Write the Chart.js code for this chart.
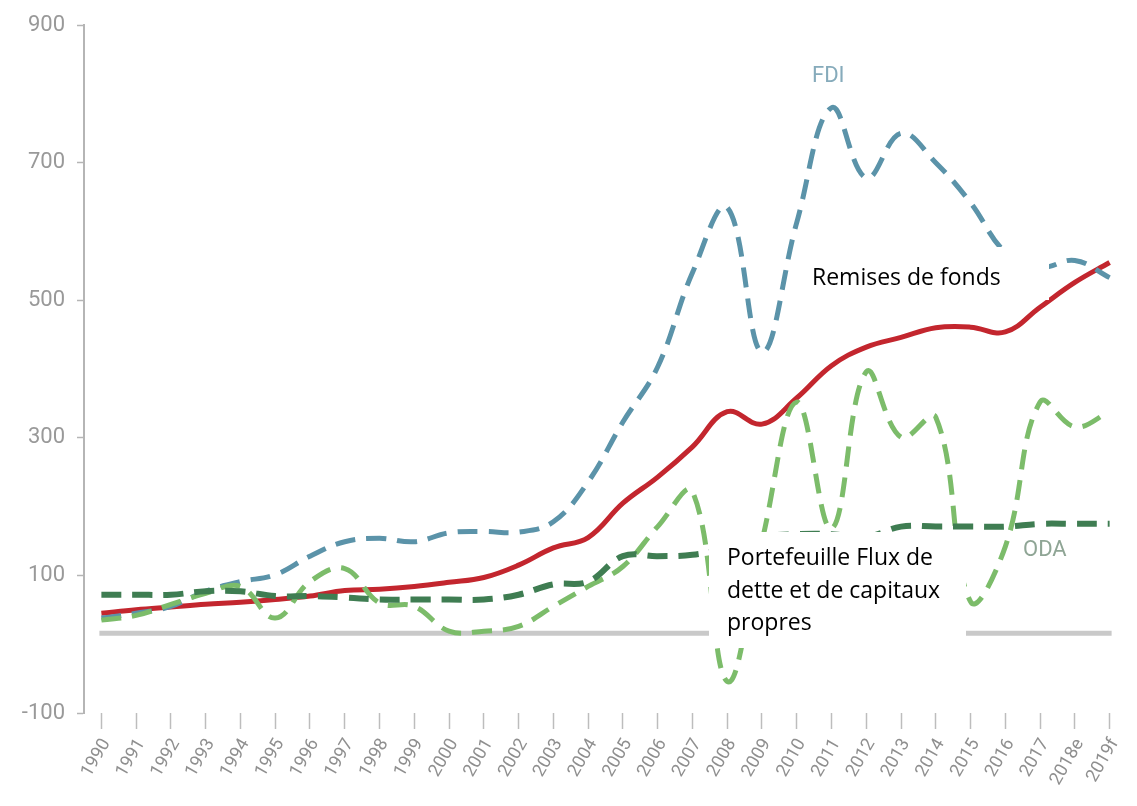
<!DOCTYPE html>
<html><head><meta charset="utf-8">
<script src="https://cdn.jsdelivr.net/npm/chart.js@4.4.1/dist/chart.umd.min.js"></script>
<style>html,body{margin:0;padding:0;background:#fff}#wrap{width:1137px;height:806px}</style>
</head><body><div id="wrap"><canvas id="c" width="1137" height="806"></canvas></div>
<script>
const years = ['1990','1991','1992','1993','1994','1995','1996','1997','1998','1999','2000','2001','2002','2003','2004','2005','2006','2007','2008','2009','2010','2011','2012','2013','2014','2015','2016','2017','2018e','2019f'];
const remittances = [45,50,54,58,61,65,70,78,80,84,90,97,115,140,155,205,243,287,338,320,358,405,432,446,460,461,454,490,526,555];
const fdi = [38,45,55,77,91,101,128,149,154,149,162,164,163,178,236,323,403,540,635,425,613,780,678,743,700,642,570,548,558,533];
const portfolio = [35,42,58,74,84,38,91,110,60,55,19,19,26,55,84,113,171,222,-54,150,352,168,396,301,330,62,142,352,316,338];
const oda = [72,72,72,77,77,70,70,68,65,65,65,65,72,87,91,128,128,130,140,156,160,160,156,171,171,171,171,175,175,175];
const yTicks = [-100,100,300,500,700,900];
const BASELINE = 16;
const AXISFONT = 'Roboto, "Liberation Sans", sans-serif';

const baselinePlugin = {
  id:'baseline',
  beforeDatasetsDraw(chart){
    const {ctx, scales:{x,y}} = chart;
    const py = y.getPixelForValue(BASELINE);
    ctx.save();
    ctx.strokeStyle='#c9c9c9'; ctx.lineWidth=5;
    ctx.beginPath(); ctx.moveTo(x.getPixelForValue(0)-2,py); ctx.lineTo(x.getPixelForValue(years.length-1)+2,py); ctx.stroke();
    ctx.restore();
  }
};
const labelsPlugin = {
  id:'labels',
  afterDatasetsDraw(chart){
    const {ctx} = chart;
    ctx.save();
    ctx.font = '22px ' + AXISFONT;
    ctx.textAlign='left'; ctx.textBaseline='middle';
    ctx.fillStyle='#86abbb';
    ctx.fillText('FDI', 812, 76);
    ctx.fillStyle='#8fa595';
    ctx.fillText('ODA', 1023, 550);
    ctx.fillStyle='#e58080';
    ctx.font = '20px ' + AXISFONT;
    ctx.fillText('Remittances', 893, 294);
    // white boxes
    ctx.fillStyle='#ffffff';
    ctx.fillRect(800, 247, 249, 53);
    ctx.fillRect(709, 532, 257, 116);
    ctx.fillStyle='#000';
    ctx.font = '23px "Open Sans", "Noto Sans", sans-serif';
    ctx.textBaseline='alphabetic';
    ctx.fillText('Remises de fonds', 812, 285);
    ctx.fillText('Portefeuille Flux de', 727, 565);
    ctx.fillText('dette et de capitaux', 727, 598);
    ctx.fillText('propres', 727, 630);
    ctx.restore();
  }
};
const dash = [20,11];
new Chart(document.getElementById('c'), {
  type:'line',
  data:{
    labels: years,
    datasets:[
      {label:'ODA', data:oda, borderColor:'#3f7d52', borderWidth:6, borderDash:dash, tension:0.4, pointRadius:0, fill:false},
      {label:'Portfolio', data:portfolio, borderColor:'#7cbc6a', borderWidth:5, borderDash:dash, tension:0.4, pointRadius:0, fill:false},
      {label:'FDI', data:fdi, borderColor:'#5b93a9', borderWidth:5, borderDash:dash, tension:0.4, pointRadius:0, fill:false},
      {label:'Remittances', data:remittances, borderColor:'#c3262e', borderWidth:5, tension:0.4, pointRadius:0, fill:false}
    ]
  },
  options:{
    responsive:false, animation:false,
    layout:{padding:{top:17,right:10,left:0,bottom:0}},
    plugins:{legend:{display:false}, tooltip:{enabled:false}},
    scales:{
      x:{
        offset:true,
        border:{display:false},
        grid:{offset:false, drawOnChartArea:false, drawTicks:true, tickLength:16, color:'#bdbdbd', tickWidth:1.5},
        ticks:{color:'#8f8f8f', font:{size:18, family:AXISFONT}, minRotation:60, maxRotation:60, autoSkip:false, padding:6, labelOffset:5},
        afterFit(s){ s.height = 93; }
      },
      y:{
        min:-100, max:900,
        afterBuildTicks(s){ s.ticks = yTicks.map(v=>({value:v})); },
        border:{display:true, color:'#b5b5b5', width:2},
        grid:{drawOnChartArea:false, drawTicks:true, tickLength:7, color:'#b5b5b5', tickWidth:1.5},
        ticks:{color:'#999999', font:{size:22, family:AXISFONT}, padding:12},
        afterFit(s){ s.width = 84; }
      }
    }
  },
  plugins:[baselinePlugin, labelsPlugin]
});
</script></body></html>
